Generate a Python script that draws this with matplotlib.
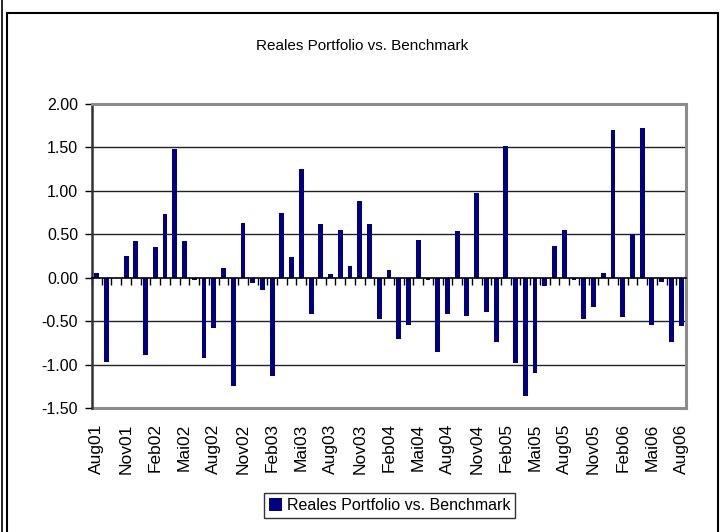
import matplotlib
matplotlib.use("Agg")
import matplotlib.pyplot as plt
import numpy as np
from matplotlib.patches import Rectangle
from matplotlib.lines import Line2D

plt.rcParams['font.family'] = ['Liberation Sans', 'DejaVu Sans']

months = ["Aug01", "Sep01", "Okt01", "Nov01", "Dez01",
          "Jan02", "Feb02", "Mrz02", "Apr02", "Mai02", "Jun02", "Jul02", "Aug02", "Sep02", "Okt02", "Nov02", "Dez02",
          "Jan03", "Feb03", "Mrz03", "Apr03", "Mai03", "Jun03", "Jul03", "Aug03", "Sep03", "Okt03", "Nov03", "Dez03",
          "Jan04", "Feb04", "Mrz04", "Apr04", "Mai04", "Jun04", "Jul04", "Aug04", "Sep04", "Okt04", "Nov04", "Dez04",
          "Jan05", "Feb05", "Mrz05", "Apr05", "Mai05", "Jun05", "Jul05", "Aug05", "Sep05", "Okt05", "Nov05", "Dez05",
          "Jan06", "Feb06", "Mrz06", "Apr06", "Mai06", "Jun06", "Jul06", "Aug06"]
values = [0.06, -0.97, 0.00, 0.25, 0.42,
          -0.89, 0.35, 0.73, 1.48, 0.42, -0.03, -0.92, -0.58, 0.11, -1.25, 0.63, -0.06,
          -0.14, -1.13, 0.75, 0.24, 1.25, -0.42, 0.62, 0.04, 0.55, 0.13, 0.88, 0.62,
          -0.48, 0.09, -0.70, -0.54, 0.43, -0.03, -0.86, -0.42, 0.54, -0.44, 0.97, -0.39,
          -0.74, 1.52, -0.98, -1.36, -1.10, -0.09, 0.37, 0.55, -0.03, -0.47, -0.34, 0.05,
          1.70, -0.45, 0.50, 1.72, -0.54, -0.05, -0.74, -0.56]
label_step = 3
y_ticks = [-1.5, -1.0, -0.5, 0.0, 0.5, 1.0, 1.5, 2.0]
title = "Reales Portfolio vs. Benchmark"
series_name = "Reales Portfolio vs. Benchmark"

fig = plt.figure(figsize=(7.24, 5.32), dpi=100)
ax = fig.add_axes([92/724, 1-408/532, (686-92)/724, (408-104)/532])

x = np.arange(len(values))
ax.bar(x, values, width=0.5, color='#000080', zorder=3, label=series_name)

ax.set_xlim(-0.5, len(values) - 0.5)
ax.set_ylim(-1.5, 2.0)
ax.set_yticks(y_ticks)
ax.set_yticklabels([f"{v:.2f}" for v in y_ticks], fontsize=11.5)
ax.tick_params(axis='y', direction='out', length=5, width=1, pad=5, color='black')

for v in y_ticks[1:-1]:
    if v != 0:
        ax.axhline(v, color='#222222', lw=1.0, zorder=1)

# bottom spine moved to zero with boundary ticks
ax.spines['bottom'].set_position(('data', 0))
ax.spines['bottom'].set_color('black')
ax.spines['bottom'].set_linewidth(1.2)
ax.spines['bottom'].set_zorder(4)
ax.set_xticks(np.arange(-0.5, len(values), 1.0))
ax.set_xticklabels([])
ax.tick_params(axis='x', direction='out', length=5, width=1, color='black')

ax.spines['left'].set_color('#333333')
ax.spines['left'].set_linewidth(1.8)
for s in ['top', 'right']:
    ax.spines[s].set_color('#8c8c8c')
    ax.spines[s].set_linewidth(2.2)

sec = ax.secondary_xaxis(0.0)
sec.set_xticks(x[::label_step])
sec.set_xticklabels([months[i] for i in x[::label_step]], rotation=90, fontsize=12.5)
sec.tick_params(length=0, pad=11)
sec.spines['bottom'].set_color('#8c8c8c')
sec.spines['bottom'].set_linewidth(2.2)

fig.text(0.5, 1 - 46/532, title, ha='center', va='center', fontsize=11)

# outer frame
fig.patches.append(Rectangle((7/724, -0.01), (718-7)/724, 1 - 13/532 + 0.01,
                             transform=fig.transFigure, fill=False,
                             edgecolor='black', lw=1.5, figure=fig))
fig.lines.append(Line2D([2/724, 2/724], [0, 1], transform=fig.transFigure,
                        color='black', lw=1.2, figure=fig))

leg = fig.legend(loc='center', bbox_to_anchor=(389.5/724, 1 - 505.5/532),
                 fontsize=11.5, frameon=True, fancybox=False, handlelength=0.8,
                 handleheight=0.8, handletextpad=0.3, borderpad=0.3,
                 borderaxespad=0)
leg.get_frame().set_edgecolor('black')
leg.get_frame().set_linewidth(1.0)

fig.savefig('out.png', dpi=100)
